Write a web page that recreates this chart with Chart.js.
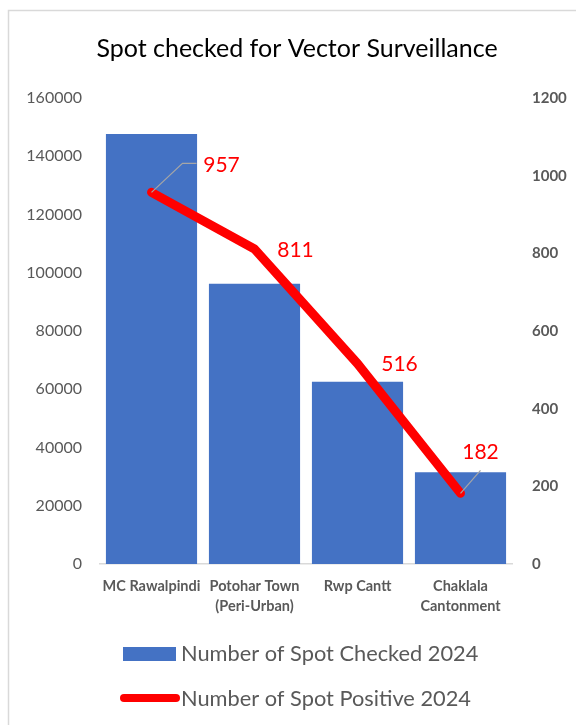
<!DOCTYPE html>
<html>
<head>
<meta charset="utf-8">
<script src="https://cdn.jsdelivr.net/npm/chart.js@4/dist/chart.umd.min.js"></script>
<style>
  html, body { margin: 0; padding: 0; background: #ffffff; }
  #wrap { width: 576px; height: 725px; }
</style>
</head>
<body>
<div id="wrap"><canvas id="chart" width="576" height="725"></canvas></div>
<script>
// Categories (towns / cantonments)
const categories = [
  'MC Rawalpindi',
  ['Potohar Town', '(Peri-Urban)'],
  'Rwp Cantt',
  ['Chaklala', 'Cantonment']
];

// Series values
const spotChecked2024 = [147600, 96200, 62600, 31500];
const spotPositive2024 = [957, 811, 516, 182];

// Axis ranges
const leftAxisMax = 160000;
const leftAxisStep = 20000;
const rightAxisMax = 1200;
const rightAxisStep = 200;

const seriesNames = ['Number of Spot Checked 2024', 'Number of Spot Positive 2024'];

const BLUE = '#4472c4';
const RED = '#ff0000';
const GREY_TEXT = '#595959';
const FONT = 'Lato, "Open Sans", sans-serif';

// Placement of the value labels around each line point (pixel offsets)
const valueLabelPlacement = [
  { dx: 70, dy: -27, leader: [[31, -29], [45, -29]] },
  { dx: 41, dy: 1 },
  { dx: 42, dy: 1 },
  { dx: 20, dy: -41, leader: [[20, -23]] }
];

// Frame line around the chart
const framePlugin = {
  id: 'frame',
  beforeDraw(chart) {
    const ctx = chart.ctx;
    ctx.save();
    ctx.strokeStyle = '#d9d9d9';
    ctx.lineWidth = 1.5;
    ctx.beginPath();
    ctx.moveTo(8.5, chart.height + 2);
    ctx.lineTo(8.5, 10.5);
    ctx.lineTo(chart.width + 2, 10.5);
    ctx.stroke();
    ctx.restore();
  }
};

// Red value labels with grey leader lines for the line series
const valueLabelPlugin = {
  id: 'valueLabels',
  afterDatasetsDraw(chart) {
    const meta = chart.getDatasetMeta(1);
    const ctx = chart.ctx;
    ctx.save();
    meta.data.forEach((pt, i) => {
      const p = valueLabelPlacement[i];
      if (p.leader) {
        ctx.strokeStyle = '#a6a6a6';
        ctx.lineWidth = 1.2;
        ctx.beginPath();
        ctx.moveTo(pt.x, pt.y);
        p.leader.forEach(([lx, ly]) => ctx.lineTo(pt.x + lx, pt.y + ly));
        ctx.stroke();
      }
      ctx.fillStyle = RED;
      ctx.font = '21px ' + FONT;
      ctx.textAlign = 'center';
      ctx.textBaseline = 'middle';
      ctx.fillText(String(spotPositive2024[i]), pt.x + p.dx, pt.y + p.dy);
    });
    ctx.restore();
  }
};

// Stacked legend below the category labels
const stackedLegendPlugin = {
  id: 'stackedLegend',
  afterDraw(chart) {
    const ctx = chart.ctx;
    ctx.save();
    ctx.font = '21.8px ' + FONT;
    ctx.textAlign = 'left';
    ctx.textBaseline = 'middle';

    // bar swatch
    ctx.fillStyle = BLUE;
    ctx.fillRect(123, 647, 53, 14);
    ctx.fillStyle = GREY_TEXT;
    ctx.fillText(seriesNames[0], 181, 654);

    // line swatch
    ctx.strokeStyle = RED;
    ctx.lineWidth = 8;
    ctx.lineCap = 'round';
    ctx.beginPath();
    ctx.moveTo(124, 698);
    ctx.lineTo(176, 698);
    ctx.stroke();
    ctx.fillText(seriesNames[1], 181, 699);
    ctx.restore();
  }
};

const plainNumber = (v) => String(v);

new Chart(document.getElementById('chart'), {
  data: {
    labels: categories,
    datasets: [
      {
        type: 'bar',
        label: seriesNames[0],
        data: spotChecked2024,
        backgroundColor: BLUE,
        borderWidth: 0,
        yAxisID: 'y',
        categoryPercentage: 1.0,
        barPercentage: 0.885,
        order: 2
      },
      {
        type: 'line',
        label: seriesNames[1],
        data: spotPositive2024,
        borderColor: RED,
        backgroundColor: RED,
        borderWidth: 9,
        borderCapStyle: 'round',
        borderJoinStyle: 'round',
        pointRadius: 0,
        pointHoverRadius: 0,
        tension: 0,
        yAxisID: 'y1',
        order: 1
      }
    ]
  },
  options: {
    responsive: false,
    devicePixelRatio: 1,
    animation: false,
    events: [],
    layout: { padding: { left: 18, right: 0, top: 0, bottom: 0 } },
    plugins: {
      legend: { display: false },
      tooltip: { enabled: false },
      title: {
        display: true,
        text: 'Spot checked for Vector Surveillance',
        color: '#000000',
        font: { family: FONT, size: 25, weight: 'normal', lineHeight: 1.2 },
        padding: { top: 34, bottom: 34 }
      }
    },
    scales: {
      x: {
        grid: { display: false, drawTicks: false },
        border: { display: true, color: '#d9d9d9', width: 1.5 },
        ticks: {
          color: GREY_TEXT,
          font: { family: FONT, size: 14.5, weight: 'bold', lineHeight: 1.38 },
          padding: 12,
          maxRotation: 0,
          autoSkip: false
        },
        afterFit(scale) { scale.height = 161; }
      },
      y: {
        position: 'left',
        min: 0,
        max: leftAxisMax,
        grid: { display: false, drawTicks: false },
        border: { display: false },
        ticks: {
          stepSize: leftAxisStep,
          color: GREY_TEXT,
          font: { family: FONT, size: 16 },
          padding: 18,
          callback: plainNumber
        },
        afterFit(scale) { scale.width = 82; }
      },
      y1: {
        position: 'right',
        min: 0,
        max: rightAxisMax,
        grid: { display: false, drawTicks: false },
        border: { display: false },
        ticks: {
          stepSize: rightAxisStep,
          color: GREY_TEXT,
          font: { family: FONT, size: 15, weight: 'bold' },
          padding: 20,
          callback: plainNumber
        },
        afterFit(scale) { scale.width = 64; }
      }
    }
  },
  plugins: [framePlugin, valueLabelPlugin, stackedLegendPlugin]
});
</script>
</body>
</html>
